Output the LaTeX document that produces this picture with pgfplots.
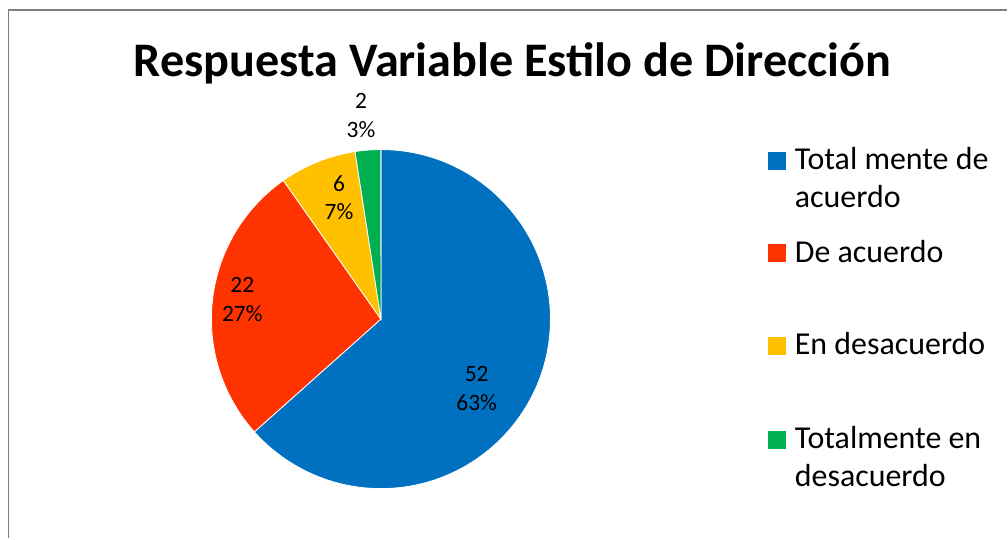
\documentclass[border=0pt]{standalone}
\usepackage{fontspec}
\setmainfont{Carlito}
\usepackage{pgfplots}
\pgfplotsset{compat=1.18}
\definecolor{cBlue}{HTML}{0070C0}
\definecolor{cRed}{HTML}{FF3300}
\definecolor{cYel}{HTML}{FFC000}
\definecolor{cGrn}{HTML}{00B050}
\definecolor{cBorder}{HTML}{808080}
\begin{document}
\begin{tikzpicture}
% data: counts per answer and the percentages shown
\def\vA{52}\def\vB{22}\def\vC{6}\def\vD{2}
\def\pA{63}\def\pB{27}\def\pC{7}\def\pD{3}
\pgfmathsetmacro\tot{\vA+\vB+\vC+\vD}
\pgfmathsetmacro\aA{90}
\pgfmathsetmacro\aB{\aA-\vA/\tot*360}
\pgfmathsetmacro\aC{\aB-\vB/\tot*360}
\pgfmathsetmacro\aD{\aC-\vC/\tot*360}
\pgfmathsetmacro\aE{\aD-\vD/\tot*360}
\newcommand\slice[3]{\fill[#1,draw=white,line width=0.8pt] (axis cs:382,220) -- ++(#2:170pt) arc[start angle=#2,end angle=#3,radius=170pt] -- cycle;}
\begin{axis}[width=1008pt,height=540pt,scale only axis,
  xmin=0,xmax=1008,ymin=0,ymax=540,hide axis,clip=false]
\path (axis cs:0,0) rectangle (axis cs:1008,540);
% frame
\draw[cBorder,line width=1.8pt] (axis cs:8.5,0) -- (axis cs:8.5,530.3) -- (axis cs:1010,530.3);
% title
\node[anchor=base,font=\fontsize{48.3}{56}\selectfont\bfseries] at (axis cs:514,463) {Respuesta Variable Estilo de Dirección};
% pie
\slice{cBlue}{\aA}{\aB}
\slice{cRed}{\aB}{\aC}
\slice{cYel}{\aC}{\aD}
\slice{cGrn}{\aD}{\aE}
% data labels
\begin{scope}[every node/.style={anchor=base,font=\fontsize{23.5}{28}\selectfont}]
\node at (axis cs:478,157) {\vA};
\node at (axis cs:478,128) {\pA\%};
\node at (axis cs:243,247) {\vB};
\node at (axis cs:243,218) {\pB\%};
\node at (axis cs:340,348) {\vC};
\node at (axis cs:340,320) {\pC\%};
\node at (axis cs:362,431) {\vD};
\node at (axis cs:362,402) {\pD\%};
\end{scope}
% legend
\fill[cBlue] (axis cs:770,370) rectangle (axis cs:788,388);
\fill[cRed] (axis cs:770,277) rectangle (axis cs:788,295);
\fill[cYel] (axis cs:770,184) rectangle (axis cs:788,202);
\fill[cGrn] (axis cs:770,90) rectangle (axis cs:788,108);
\begin{scope}[every node/.style={anchor=base west,inner xsep=0pt,font=\fontsize{32}{38}\selectfont}]
\node at (axis cs:797,370) {Total mente de};
\node at (axis cs:797,332) {acuerdo};
\node at (axis cs:797,277) {De acuerdo};
\node at (axis cs:797,184) {En desacuerdo};
\node at (axis cs:797,90) {Totalmente en};
\node at (axis cs:797,52) {desacuerdo};
\end{scope}
\end{axis}
\end{tikzpicture}
\end{document}
